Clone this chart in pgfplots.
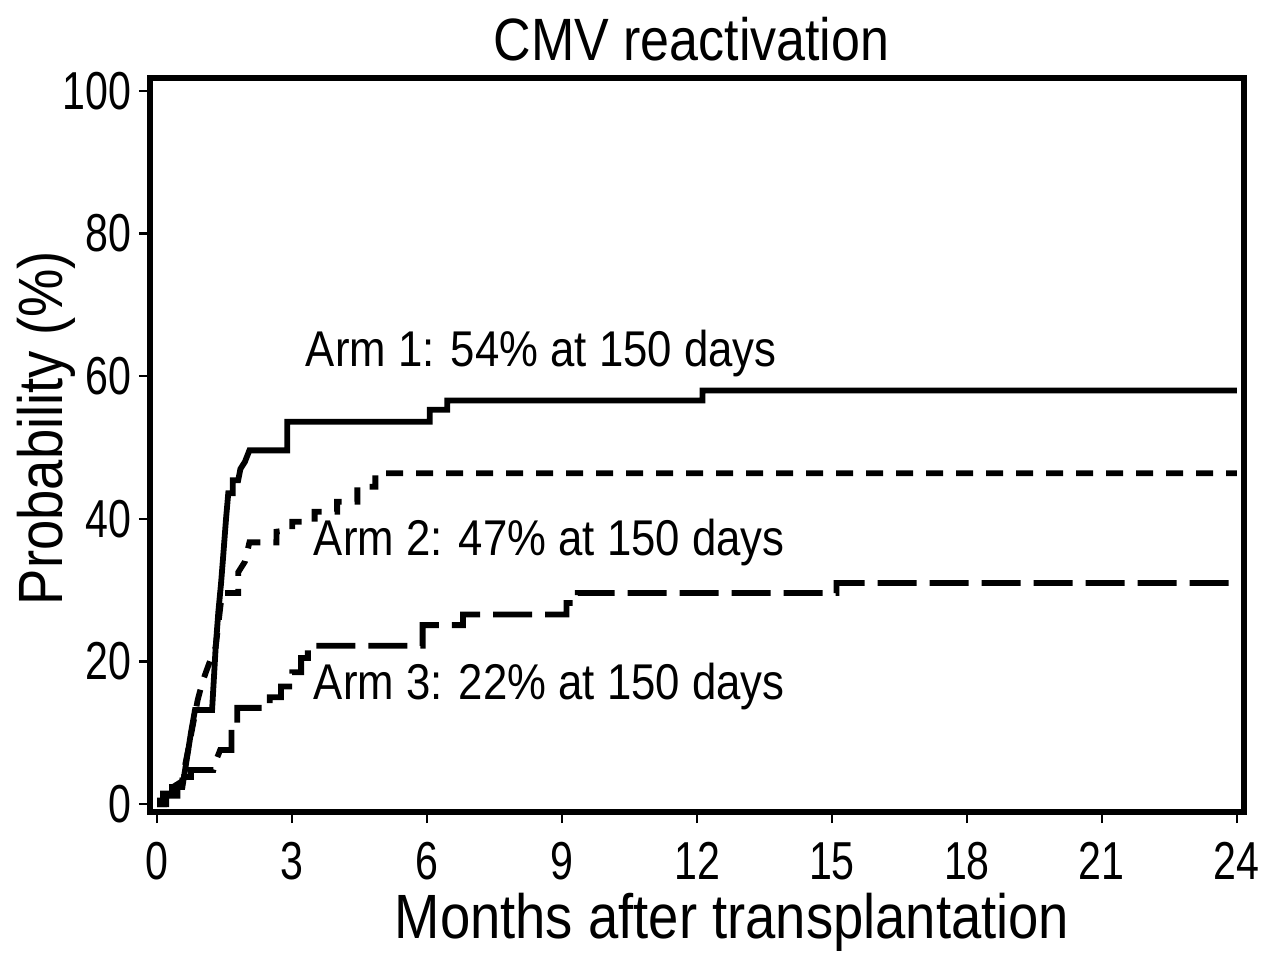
\documentclass[border=0pt]{standalone}
\usepackage{pgfplots}
\pgfplotsset{compat=1.18}
\usepackage{fontspec}
\setmainfont{Liberation Sans}[FakeStretch=0.87]
\newfontfamily\tickfont{Liberation Sans}[FakeStretch=0.77]
\begin{document}
\begin{tikzpicture}
\path[use as bounding box] (-15mm,-14.8mm) rectangle (113mm,81.2mm);
\begin{axis}[
  at={(0,0)}, anchor=south west,
  scale only axis,
  width=109.4mm, height=73.4mm,
  xmin=-0.16, xmax=24.16, ymin=-1.1, ymax=101.8,
  axis line style={line width=0.65mm},
  xtick={0,3,...,24}, ytick={0,20,...,100},
  xtick pos=bottom, ytick pos=left,
  tick align=outside,
  major tick length=1.1mm,
  tick style={line width=0.25mm, black},
  /pgf/number format/assume math mode=true,
  ticklabel style={font=\tickfont\fontsize{15.2}{16}\selectfont},
  xticklabel style={anchor=base, yshift=-5.6mm},
  yticklabel style={xshift=0.5mm},
  title={CMV reactivation},
  every axis title/.style={at={(axis description cs:0.495,1.0245)}, anchor=base, font=\fontsize{17}{20}\selectfont},
  xlabel={Months after transplantation},
  every axis x label/.style={at={(axis description cs:0.532,-0.1717)}, anchor=base, font=\fontsize{17.8}{20}\selectfont},
  ylabel={Probability (\%)},
  every axis y label/.style={at={(axis description cs:-0.0804,0.523)}, anchor=base, rotate=90, font=\fontsize{17.8}{20}\selectfont},
  clip=false,
]
% Arm 1 (solid)
\addplot[black, line width=0.58mm, line join=miter] coordinates {
(0,0.5)(0.13,0.5)(0.13,1.5)(0.33,1.5)(0.33,2.4)(0.56,2.4)(0.65,6)(0.75,10)(0.84,13.2)(1.22,13.2)(1.3,22)(1.36,27)(1.42,31)(1.47,35)(1.53,40)(1.58,43.6)(1.68,43.6)(1.68,45.4)(1.8,45.4)(1.85,47)(1.95,48)(2.05,49.6)(2.89,49.6)(2.89,53.6)(6.06,53.6)(6.06,55.3)(6.45,55.3)(6.45,56.6)(12.12,56.6)(12.12,58)(24,58)
};
% Arm 2 (short dashes)
\addplot[black, line width=0.58mm, dash pattern=on 1.7mm off 1.3mm] coordinates {
(0,0)(0.15,0)(0.15,1.2)(0.35,1.2)(0.35,2.4)(0.55,3.2)(0.7,8)(0.9,14.6)(1.0,17)(1.1,18.8)(1.2,20.5)(1.3,22)(1.44,29.6)(1.8,29.6)(1.8,32.5)(1.95,34)(2.05,36.7)(2.65,36.7)(2.65,38.2)(3.0,38.5)(3.0,39.6)(3.5,39.6)(3.5,41)(4.0,41)(4.0,42.4)(4.45,42.4)(4.45,44.5)(4.85,44.5)(4.85,46.4)(24,46.4)
};
% Arm 3 (long dashes)
\addplot[black, line width=0.58mm, dash pattern=on 3.9mm off 1.3mm] coordinates {
(0,0)(0.2,0)(0.2,1.2)(0.45,1.2)(0.45,2.6)(0.6,2.6)(0.6,3.8)(0.75,3.8)(0.75,4.8)(1.25,4.8)(1.3,6)(1.4,7.6)(1.65,7.6)(1.65,10)(1.78,10)(1.78,13.5)(2.5,13.5)(2.5,15)(2.75,15)(2.75,16.5)(3.0,16.5)(3.0,18.5)(3.2,18.5)(3.2,20.5)(3.35,20.5)(3.35,22.2)(5.9,22.2)(5.9,25.1)(6.8,25.1)(6.8,26.6)(9.1,26.6)(9.1,28.2)(9.35,28.2)(9.35,29.6)(15.1,29.6)(15.1,31.0)(24,31.0)
};
\node[anchor=base west, inner sep=0, font=\fontsize{14.3}{16}\selectfont] at (axis cs:3.29,61.3) {Arm 1: 54\% at 150 days};
\node[anchor=base west, inner sep=0, font=\fontsize{14.3}{16}\selectfont] at (axis cs:3.47,34.8) {Arm 2: 47\% at 150 days};
\node[anchor=base west, inner sep=0, font=\fontsize{14.3}{16}\selectfont] at (axis cs:3.47,14.7) {Arm 3: 22\% at 150 days};
\end{axis}
\end{tikzpicture}
\end{document}
